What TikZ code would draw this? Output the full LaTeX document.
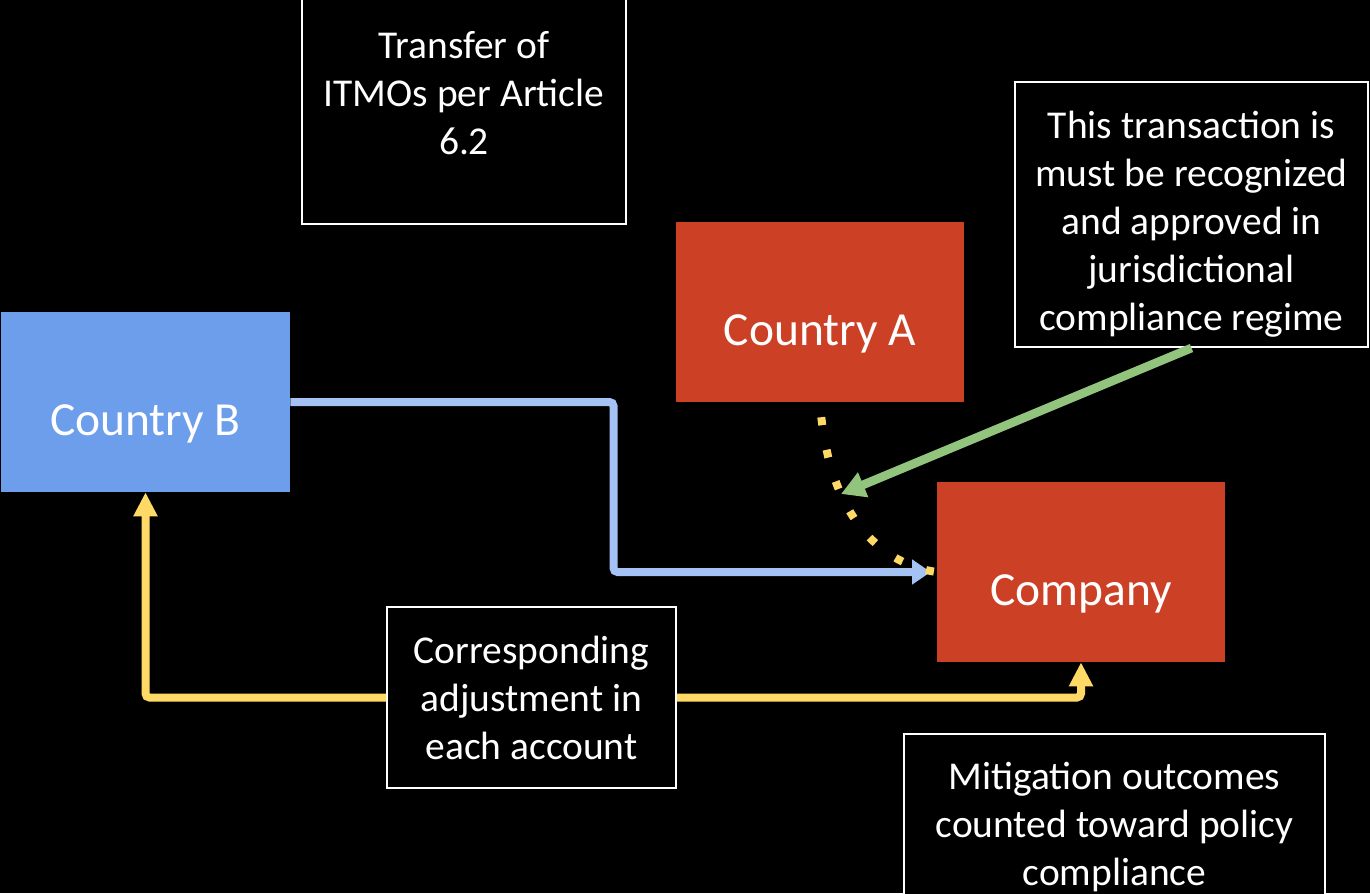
\documentclass[tikz,border=0pt]{standalone}
\usepackage{fontspec}
\setmainfont{Carlito}
\usepackage{tikz}
\usetikzlibrary{arrows.meta,calc}
\definecolor{boxred}{RGB}{204,65,37}
\definecolor{boxblue}{RGB}{109,158,235}
\definecolor{flowblue}{RGB}{164,194,244}
\definecolor{flowyellow}{RGB}{255,217,102}
\definecolor{flowgreen}{RGB}{147,196,125}

\begin{document}
\begin{tikzpicture}[x=0.75pt,y=0.75pt,yscale=-1,xscale=1,
  notetext/.style={text=white,align=center,font=\fontsize{29.6}{36}\selectfont},
  notebox/.style={notetext,draw=white,line width=1.5pt,fill=black},
  countrybox/.style={fill=#1,text=white,minimum width=216pt,minimum height=135pt,text height=57pt,text depth=7pt,font=\fontsize{35.6}{43}\selectfont},
  blueflow/.style={draw=flowblue,line width=6pt,rounded corners=3pt,-{Triangle[length=14pt,width=18pt]}},
  yellowflow/.style={draw=flowyellow,line width=6pt,rounded corners=3pt,-{Triangle[length=18pt,width=17pt]}},
  greenflow/.style={draw=flowgreen,line width=6.5pt,-{Triangle[length=18pt,width=19pt]}},
  dotflow/.style={draw=flowyellow,line width=6pt,dash pattern=on 6pt off 18.75pt,dash phase=13.5pt}]
%set diagram size 1370 x 893
\fill[black] (0,0) rectangle (1370,893);
\useasboundingbox (0,0) rectangle (1370,893);

% Text Boxes
\node[notebox,minimum width=243pt,minimum height=196.5pt] (transfer) at (464,93) {Transfer of\\ITMOs per Article\\6.2};
\node[notebox,minimum width=264.75pt,minimum height=198.75pt] (regime) at (1191.5,214.5) {};
\node[notetext,yshift=-7.5pt] (regimetext) at (regime) {This transaction is\\must be recognized\\and approved in\\jurisdictional\\compliance regime};
\node[notebox,minimum width=216.75pt,minimum height=135.75pt] (adjust) at (531.5,697.5) {Corresponding\\adjustment in\\each account};
\node[notebox,minimum width=315.75pt,minimum height=139.5pt] (outcome) at (1114.5,827) {Mitigation outcomes\\counted toward policy\\compliance};

% Parties
\node[countrybox=boxred] (countryA) at (820,312) {Country A};
\node[countrybox=boxblue,minimum width=216.75pt] (countryB) at (145.5,402) {Country B};
\node[countrybox=boxred] (company) at (1081,572) {Company};

%Connectors
\draw[blueflow,shorten >=4.5pt] (countryB.east) -| ($(countryB.east)!0.5!(company.west)$) |- (company.west);
\draw[yellowflow] (adjust.west) -| (countryB.south);
\draw[yellowflow] (adjust.east) -| (company.south);
\draw[dotflow] (countryA.south) .. controls +(8,118) and +(-52,-7) .. (company.west);
\coordinate (greentip) at (841,494);
\draw[greenflow] (regime.south) -- (greentip);
\end{tikzpicture}
\end{document}
